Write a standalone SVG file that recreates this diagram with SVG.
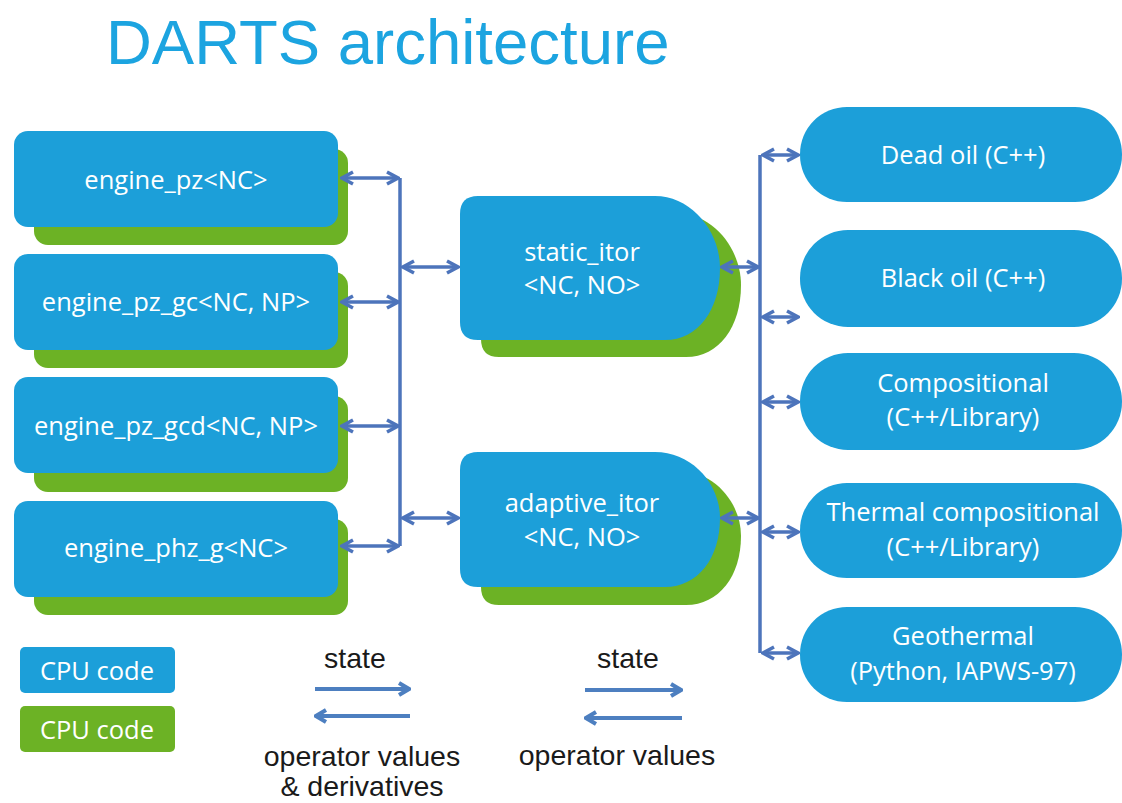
<svg xmlns="http://www.w3.org/2000/svg" width="1122" height="803" viewBox="0 0 1122 803">
<style>
.blue{fill:#1c9fd9}
.green{fill:#6cb225}
.nt{font-family:"Open Sans","Noto Sans",sans-serif;font-size:25.5px;fill:#ffffff;text-anchor:middle}
.lt{font-family:"Liberation Sans",Arial,sans-serif;font-size:28.5px;fill:#1a1a1a;text-anchor:middle}
.conn{stroke:#4d74bb;stroke-width:3.5;fill:none}
.leg{stroke:#4d7fc0;stroke-width:4;fill:none}
</style>
<defs>
<marker id="ah" viewBox="0 0 16 16" refX="14" refY="8" markerWidth="16" markerHeight="16" markerUnits="userSpaceOnUse" orient="auto-start-reverse">
<path d="M3,2 L14,8 L3,14" fill="none" stroke="#4d74bb" stroke-width="3.5" stroke-linejoin="miter"/>
</marker>
<marker id="lh" viewBox="0 0 16 16" refX="14" refY="8" markerWidth="16" markerHeight="16" markerUnits="userSpaceOnUse" orient="auto-start-reverse">
<path d="M4,2 L14,8 L4,14" fill="none" stroke="#4d7fc0" stroke-width="4"/>
</marker>
</defs>
<rect width="1122" height="803" fill="#ffffff"/>
<text x="106" y="64" font-family="Liberation Sans,Arial,sans-serif" font-size="63.5" fill="#1ca4e0">DARTS architecture</text>

<g id="engine_pz">
<rect class="green" x="34" y="149" width="314" height="96" rx="14"/>
<rect class="blue" x="14" y="131" width="324" height="96" rx="14"/>
<text class="nt" x="176" y="189">engine_pz&lt;NC&gt;</text>
</g>
<g id="engine_pz_gc">
<rect class="green" x="34" y="272" width="314" height="96" rx="14"/>
<rect class="blue" x="14" y="254" width="324" height="96" rx="14"/>
<text class="nt" x="176" y="311">engine_pz_gc&lt;NC, NP&gt;</text>
</g>
<g id="engine_pz_gcd">
<rect class="green" x="34" y="396" width="314" height="96" rx="14"/>
<rect class="blue" x="14" y="377" width="324" height="96" rx="14"/>
<text class="nt" x="176" y="435">engine_pz_gcd&lt;NC, NP&gt;</text>
</g>
<g id="engine_phz_g">
<rect class="green" x="34" y="519" width="314" height="96" rx="14"/>
<rect class="blue" x="14" y="501" width="324" height="96" rx="14"/>
<text class="nt" x="176" y="557">engine_phz_g&lt;NC&gt;</text>
</g>

<g id="static_itor">
<path class="green" transform="translate(21,17)" d="M478,196 H655 C692,196 720,232 720,268 C720,310 698,340 665,340 H478 Q460,340 460,322 V214 Q460,196 478,196 Z"/>
<path class="blue" d="M478,196 H655 C692,196 720,232 720,268 C720,310 698,340 665,340 H478 Q460,340 460,322 V214 Q460,196 478,196 Z"/>
<text class="nt" x="582" y="261">static_itor</text>
<text class="nt" x="582" y="294">&lt;NC, NO&gt;</text>
</g>
<g id="adaptive_itor">
<path class="green" transform="translate(21,18)" d="M478,452 H655 C692,452 720,484 720,518 C720,558 698,587 665,587 H478 Q460,587 460,569 V470 Q460,452 478,452 Z"/>
<path class="blue" d="M478,452 H655 C692,452 720,484 720,518 C720,558 698,587 665,587 H478 Q460,587 460,569 V470 Q460,452 478,452 Z"/>
<text class="nt" x="582" y="512">adaptive_itor</text>
<text class="nt" x="582" y="546">&lt;NC, NO&gt;</text>
</g>

<g id="dead_oil">
<rect class="blue" x="800" y="107" width="322" height="95" rx="47"/>
<text class="nt" x="963" y="164">Dead oil (C++)</text>
</g>
<g id="black_oil">
<rect class="blue" x="800" y="230" width="322" height="97" rx="48"/>
<text class="nt" x="963" y="287">Black oil (C++)</text>
</g>
<g id="compositional">
<rect class="blue" x="800" y="353" width="322" height="97" rx="48"/>
<text class="nt" x="963" y="392">Compositional</text>
<text class="nt" x="963" y="426">(C++/Library)</text>
</g>
<g id="thermal_compositional">
<rect class="blue" x="800" y="483" width="322" height="95" rx="47"/>
<text class="nt" x="963" y="521">Thermal compositional</text>
<text class="nt" x="963" y="556">(C++/Library)</text>
</g>
<g id="geothermal">
<rect class="blue" x="800" y="607" width="322" height="95" rx="47"/>
<text class="nt" x="963" y="645">Geothermal</text>
<text class="nt" x="963" y="680">(Python, IAPWS-97)</text>
</g>

<g id="connectors">
<path class="conn" d="M400,178 V546"/>
<path class="conn" d="M342,178 H398" marker-start="url(#ah)" marker-end="url(#ah)"/>
<path class="conn" d="M342,302 H398" marker-start="url(#ah)" marker-end="url(#ah)"/>
<path class="conn" d="M342,426 H398" marker-start="url(#ah)" marker-end="url(#ah)"/>
<path class="conn" d="M342,546 H398" marker-start="url(#ah)" marker-end="url(#ah)"/>
<path class="conn" d="M403,267 H458" marker-start="url(#ah)" marker-end="url(#ah)"/>
<path class="conn" d="M403,518 H458" marker-start="url(#ah)" marker-end="url(#ah)"/>
<path class="conn" d="M760,155 V653"/>
<path class="conn" d="M722,267 H758" marker-start="url(#ah)" marker-end="url(#ah)"/>
<path class="conn" d="M722,518 H758" marker-start="url(#ah)" marker-end="url(#ah)"/>
<path class="conn" d="M763,155 H798" marker-start="url(#ah)" marker-end="url(#ah)"/>
<path class="conn" d="M763,317 H798" marker-start="url(#ah)" marker-end="url(#ah)"/>
<path class="conn" d="M763,402 H798" marker-start="url(#ah)" marker-end="url(#ah)"/>
<path class="conn" d="M763,532 H798" marker-start="url(#ah)" marker-end="url(#ah)"/>
<path class="conn" d="M763,653 H798" marker-start="url(#ah)" marker-end="url(#ah)"/>
</g>

<g id="legend">
<rect class="blue" x="20" y="647" width="155" height="46" rx="5"/>
<text class="nt" x="97" y="680">CPU code</text>
<rect class="green" x="20" y="706" width="155" height="46" rx="5"/>
<text class="nt" x="97" y="739">CPU code</text>
<text class="lt" x="355" y="668">state</text>
<path class="leg" d="M315,689 H409" marker-end="url(#lh)"/>
<path class="leg" d="M410,716 H316" marker-end="url(#lh)"/>
<text class="lt" x="362" y="766">operator values</text>
<text class="lt" x="362" y="796">&amp; derivatives</text>
<text class="lt" x="628" y="668">state</text>
<path class="leg" d="M585,690 H681" marker-end="url(#lh)"/>
<path class="leg" d="M682,718 H586" marker-end="url(#lh)"/>
<text class="lt" x="617" y="765">operator values</text>
</g>
</svg>
